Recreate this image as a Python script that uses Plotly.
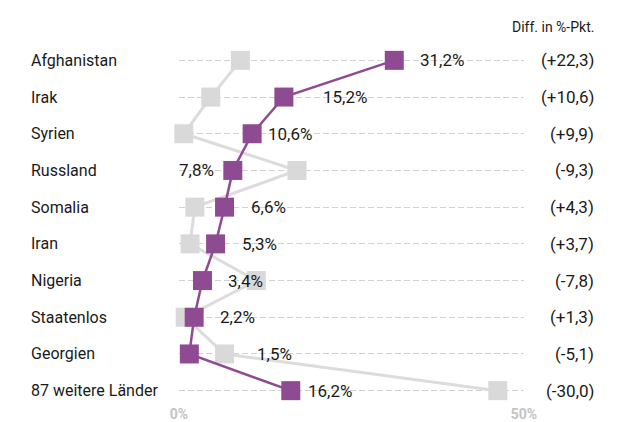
import plotly.graph_objects as go

# Herkunftsländer, Anteil in % (aktuell und Vorjahr), Differenz in %-Punkten
countries = ["Afghanistan", "Irak", "Syrien", "Russland", "Somalia", "Iran",
             "Nigeria", "Staatenlos", "Georgien", "87 weitere Länder"]
share_now = [31.2, 15.2, 10.6, 7.8, 6.6, 5.3, 3.4, 2.2, 1.5, 16.2]
share_prev = [8.9, 4.6, 0.7, 17.1, 2.3, 1.6, 11.2, 0.9, 6.6, 46.2]
diff_pts = [22.3, 10.6, 9.9, -9.3, 4.3, 3.7, -7.8, 1.3, -5.1, -30.0]
x_ticks = [0, 50]
x_tick_text = ["0%", "50%"]

# label placement: horizontal pixel offset from the current-share marker
label_shift = [24, 37, 14, -17, 24, 24, 24, 24, 66, 15]
label_anchor = ["left", "left", "left", "right", "left", "left", "left", "left", "left", "left"]

PURPLE = "#8f4b92"
GREY = "#d9d9d9"
TEXT = "#1a1a1a"
FONT = "Roboto, Liberation Sans, sans-serif"


def de(v, sign=False):
    s = f"{v:+.1f}" if sign else f"{v:.1f}"
    return s.replace(".", ",")


fig = go.Figure()

fig.add_trace(go.Scatter(
    x=share_prev, y=countries, mode="lines+markers",
    line=dict(color="#dcdcdc", width=3),
    marker=dict(symbol="square", size=19, color=GREY),
    hoverinfo="skip", cliponaxis=False,
))
fig.add_trace(go.Scatter(
    x=share_now, y=countries, mode="lines+markers",
    line=dict(color=PURPLE, width=2.5),
    marker=dict(symbol="square", size=19, color=PURPLE),
    hoverinfo="skip", cliponaxis=False,
))

annotations = []
for c, v, sh, anc, d in zip(countries, share_now, label_shift, label_anchor, diff_pts):
    annotations.append(dict(
        x=v, y=c, xref="x", yref="y", text=de(v) + "%", showarrow=False,
        xanchor=anc, yanchor="middle", xshift=sh,
        font=dict(family=FONT, size=17, color=TEXT),
    ))
    annotations.append(dict(
        x=0, y=c, xref="paper", yref="y", text=c, showarrow=False,
        xanchor="left", yanchor="middle", xshift=-150,
        font=dict(family=FONT, size=16, color=TEXT),
    ))
    annotations.append(dict(
        x=1, y=c, xref="paper", yref="y", text="(" + de(d, sign=True) + ")",
        showarrow=False, xanchor="right", yanchor="middle", xshift=72,
        font=dict(family=FONT, size=17, color=TEXT),
    ))

annotations.append(dict(
    x=1, y=1, xref="paper", yref="paper", text="Diff. in %-Pkt.", showarrow=False,
    xanchor="right", yanchor="middle", xshift=72, yshift=15,
    font=dict(family=FONT, size=14, color=TEXT),
))

fig.update_layout(
    width=619, height=422,
    margin=dict(l=179, r=95, t=42, b=24),
    paper_bgcolor="white", plot_bgcolor="white",
    showlegend=False,
    annotations=annotations,
    xaxis=dict(
        range=[0, 50], tickvals=x_ticks, ticktext=x_tick_text,
        showgrid=False, zeroline=False, showline=False, ticks="",
        tickfont=dict(family=FONT, size=14, color="#c4c4c4", weight="bold"),
        ticklabelstandoff=6, automargin=False,
        fixedrange=True,
    ),
    yaxis=dict(
        categoryorder="array", categoryarray=countries,
        range=[9.2, -0.5], showticklabels=False, ticks="",
        showgrid=True, gridcolor="#d2d2d2", gridwidth=1, griddash="6px,3px",
        zeroline=False, showline=False, fixedrange=True, automargin=False,
    ),
)

fig.write_html("out.html")
